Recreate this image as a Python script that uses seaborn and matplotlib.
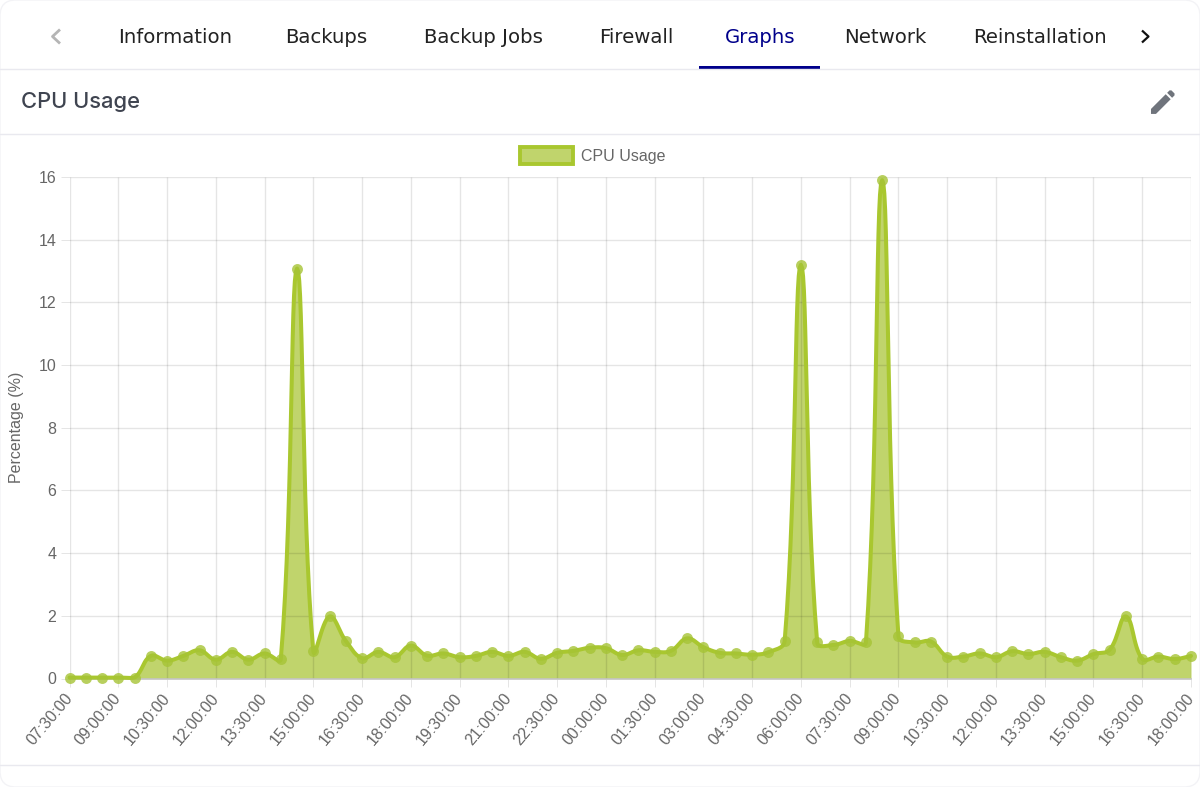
import numpy as np
import pandas as pd
import matplotlib
matplotlib.use("Agg")
import matplotlib.pyplot as plt
import seaborn as sns
from matplotlib.patches import FancyBboxPatch, Patch, PathPatch, Rectangle
from matplotlib.path import Path

tab_names = ['Information', 'Backups', 'Backup Jobs', 'Firewall', 'Graphs', 'Network']
tab_centers = [175, 326, 483, 636, 760, 885]
clipped_tab = 'Reinstallation'

tick_labels = ['07:30:00', '09:00:00', '10:30:00', '12:00:00', '13:30:00', '15:00:00',
               '16:30:00', '18:00:00', '19:30:00', '21:00:00', '22:30:00', '00:00:00',
               '01:30:00', '03:00:00', '04:30:00', '06:00:00', '07:30:00', '09:00:00',
               '10:30:00', '12:00:00', '13:30:00', '15:00:00', '16:30:00', '18:00:00']

cpu_usage = [0.03, 0.03, 0.03, 0.03, 0.03, 0.72, 0.57, 0.72, 0.90, 0.60,
             0.85, 0.60, 0.80, 0.62, 13.08, 0.88, 1.98, 1.20, 0.65, 0.85,
             0.68, 1.05, 0.73, 0.80, 0.68, 0.72, 0.85, 0.72, 0.85, 0.63,
             0.82, 0.88, 0.98, 0.97, 0.75, 0.90, 0.85, 0.88, 1.28, 1.00,
             0.82, 0.80, 0.76, 0.84, 1.20, 13.20, 1.15, 1.07, 1.20, 1.15,
             15.90, 1.35, 1.15, 1.18, 0.70, 0.70, 0.80, 0.68, 0.87, 0.78,
             0.85, 0.68, 0.57, 0.78, 0.92, 1.98, 0.63, 0.70, 0.62, 0.72]

LINE = '#a9c72f'
FILL = '#c0d46c'
TEXT = '#666666'
UI_FONT = 'DejaVu Sans'
ARIAL = 'Liberation Sans'


def smooth_curve(values, px_x, px_y, ymax, tension=0.4, steps=16):
    # same bezier smoothing the web chart uses, distances measured in pixels
    y = np.array(values, dtype=float)
    n = len(y)
    x = np.arange(n, dtype=float)
    c_prev = np.zeros((n, 2))
    c_next = np.zeros((n, 2))
    for i in range(n):
        a = max(i - 1, 0)
        b = min(i + 1, n - 1)
        d01 = np.hypot((x[i] - x[a]) * px_x, (y[i] - y[a]) * px_y)
        d12 = np.hypot((x[b] - x[i]) * px_x, (y[b] - y[i]) * px_y)
        total = d01 + d12 if d01 + d12 > 0 else 1
        fa, fb = tension * d01 / total, tension * d12 / total
        c_prev[i] = x[i] - fa * (x[b] - x[a]), y[i] - fa * (y[b] - y[a])
        c_next[i] = x[i] + fb * (x[b] - x[a]), y[i] + fb * (y[b] - y[a])
    c_prev[:, 1] = np.clip(c_prev[:, 1], 0, ymax)
    c_next[:, 1] = np.clip(c_next[:, 1], 0, ymax)
    t = np.linspace(0, 1, steps)[:-1, None]
    parts = []
    for i in range(n - 1):
        p0, p3 = np.array([x[i], y[i]]), np.array([x[i + 1], y[i + 1]])
        parts.append((1 - t) ** 3 * p0 + 3 * (1 - t) ** 2 * t * c_next[i]
                     + 3 * (1 - t) * t ** 2 * c_prev[i + 1] + t ** 3 * p3)
    parts.append(np.array([[x[-1], y[-1]]]))
    return np.vstack(parts)


sns.set_theme(style="white")
plt.rcParams['font.family'] = [ARIAL, 'DejaVu Sans']

W, H = 1200, 787
fig = plt.figure(figsize=(W / 100, H / 100), dpi=100, facecolor='white')

# page furniture, in pixel coordinates
ui = fig.add_axes([0, 0, 1, 1], zorder=0)
ui.set_xlim(0, W)
ui.set_ylim(H, 0)
ui.axis('off')
ui.add_patch(FancyBboxPatch((0, 0), W, H, boxstyle='round,pad=0,rounding_size=16',
                            fc='white', ec='#f3f3f6', lw=1))
for yy in [69, 133.5, 765]:
    ui.plot([0, W], [yy, yy], color='#e9e9ef', lw=1)
ui.add_patch(Rectangle((699, 66), 121, 2.5, color='#00008b', lw=0))

for name, cx in zip(tab_names, tab_centers):
    ui.text(cx, 37.5, name, ha='center', va='center', family=UI_FONT, fontsize=14.2,
            color='#00008b' if name == 'Graphs' else '#222222')
clip_box = Rectangle((90, 0), 1020, 69, transform=ui.transData)
t = ui.text(973, 37.5, clipped_tab, ha='left', va='center', family=UI_FONT, fontsize=14.2, color='#222222')
t.set_clip_path(clip_box)

ui.text(21, 102, 'CPU Usage', ha='left', va='center', family='Inter', fontsize=15.8,
        fontweight='medium', color='#3f4450')

ui.plot([60, 52.5, 60], [29.5, 36.5, 43.5], color='#b5b5b5', lw=2.0, solid_capstyle='butt')
ui.plot([1142, 1148.5, 1142], [30.5, 36.5, 42.5], color='#111111', lw=1.6, solid_capstyle='butt')

pen_x = lambda u: 1147 + 1.33 * u
pen_y = lambda v: 86 + 1.33 * v
pen_body = [(3, 17.25), (3, 21), (6.75, 21), (17.81, 9.94), (14.06, 6.19), (3, 17.25)]
pen_tip = [(20.71, 7.04), (20.71, 5.63), (18.37, 3.29), (16.96, 3.29), (15.13, 5.12),
           (18.88, 8.87), (20.71, 7.04)]
for shape in (pen_body, pen_tip):
    verts = [(pen_x(u), pen_y(v)) for u, v in shape]
    ui.add_patch(PathPatch(Path(verts), fc='#6f747c', ec='none'))

# chart
left, right, top, bottom = 69.5, 1191, 177, 678.5
ax = fig.add_axes([left / W, 1 - bottom / H, (right - left) / W, (bottom - top) / H], zorder=1)
ax.patch.set_alpha(0)

n_points = len(cpu_usage)
positions = np.arange(n_points)
curve = smooth_curve(cpu_usage, (right - left) / (n_points - 1), (bottom - top) / 16, 16)
curve_df = pd.DataFrame({'slot': curve[:, 0], 'usage': curve[:, 1]})
points_df = pd.DataFrame({'slot': positions, 'usage': cpu_usage})

ax.set_xlim(0, n_points - 1)
ax.set_ylim(0, 16)

ax.fill_between(curve_df['slot'], 0, curve_df['usage'], color=FILL, lw=0, zorder=1)
# gridlines sit over the fill, faint black like the original
ax.vlines(positions[::3], 0, 16, color='#000000', alpha=0.1, lw=1, zorder=2)
ax.hlines(np.arange(2, 17, 2), 0, n_points - 1, color='#000000', alpha=0.1, lw=1, zorder=2)

sns.lineplot(data=curve_df, x='slot', y='usage', sort=False, estimator=None, ax=ax,
             color=LINE, lw=2.9, zorder=3, clip_on=False, legend=False)
sns.scatterplot(data=points_df, x='slot', y='usage', ax=ax, color='#a6c436', s=62, alpha=0.8,
                linewidth=0, zorder=4, clip_on=False, legend=False)

ax.set_xticks(positions[::3])
ax.set_xticklabels(tick_labels, rotation=50, ha='right', va='center', rotation_mode='anchor',
                   fontsize=11.5, color=TEXT)
ax.set_yticks(np.arange(0, 17, 2))
ax.tick_params(axis='y', length=6.5, width=0.7, color='#e5e5e5', pad=3, labelsize=11.5, labelcolor=TEXT, left=True)
ax.tick_params(axis='x', length=6, width=0.7, color='#e5e5e5', pad=6, bottom=True)
ax.set_xlabel('')
ax.set_ylabel('Percentage (%)', fontsize=11.5, color=TEXT)
ax.yaxis.set_label_coords((24 - left) / (right - left), 0.5)

for side in ['top', 'right', 'left']:
    ax.spines[side].set_visible(False)
ax.spines['bottom'].set_color('#c4c4c4')
ax.spines['bottom'].set_linewidth(1.2)

leg = ax.legend(handles=[Patch(facecolor=FILL, edgecolor=LINE, linewidth=2.8, label='CPU Usage')],
                loc='center', bbox_to_anchor=((592.5 - left) / (right - left), (678.5 - 155.5) / (bottom - top)),
                frameon=False, fontsize=11.5, labelcolor=TEXT, handlelength=3.35, handleheight=1.2,
                handletextpad=0.5, borderpad=0, borderaxespad=0)

fig.savefig('out.png', dpi=100)
